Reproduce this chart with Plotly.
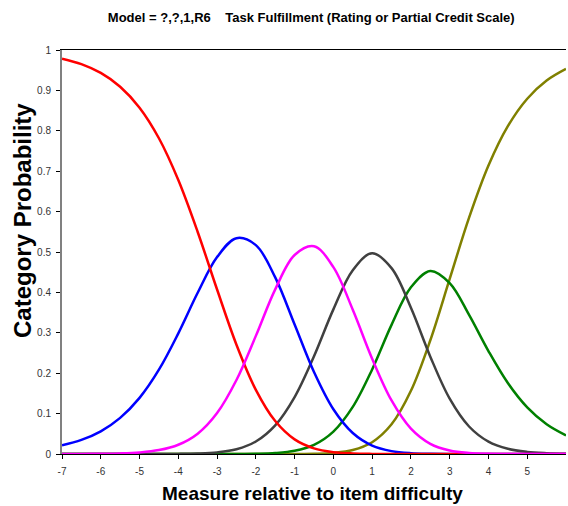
import plotly.graph_objects as go

# Measure relative to item difficulty (x)
measure = [-7, -6.5, -6, -5.5, -5, -4.5, -4, -3.5, -3, -2.5, -2, -1.5, -1, -0.5,
           0, 0.5, 1, 1.5, 2, 2.5, 3, 3.5, 4, 4.5, 5, 5.5, 6]

# Category probabilities
cat0_red = [0.9785, 0.9649, 0.9432, 0.9091, 0.8572, 0.7815, 0.6781, 0.5495, 0.4071, 0.2706,
            0.1589, 0.0815, 0.0362, 0.0139, 0.0046, 0.0013, 0.0003, 0.0001, 0.0, 0.0,
            0.0, 0.0, 0.0, 0.0, 0.0, 0.0, 0.0]
cat1_blue = [0.0215, 0.0349, 0.0562, 0.0894, 0.1389, 0.2087, 0.2987, 0.3990, 0.4874, 0.5342,
             0.5170, 0.4371, 0.3204, 0.2029, 0.1107, 0.0519, 0.0208, 0.0071, 0.0020, 0.0005,
             0.0001, 0.0, 0.0, 0.0, 0.0, 0.0, 0.0]
cat2_magenta = [0.0001, 0.0002, 0.0006, 0.0015, 0.0039, 0.0097, 0.0229, 0.0503, 0.1014, 0.1832,
                0.2924, 0.4075, 0.4926, 0.5143, 0.4625, 0.3571, 0.2359, 0.1326, 0.0629, 0.0253,
                0.0087, 0.0026, 0.0007, 0.0002, 0.0, 0.0, 0.0]
cat3_gray = [0.0, 0.0, 0.0, 0.0, 0.0, 0.0001, 0.0003, 0.0012, 0.0040, 0.0118,
             0.0310, 0.0710, 0.1410, 0.2420, 0.3580, 0.4550, 0.4970, 0.4600, 0.3620, 0.2410,
             0.1370, 0.0681, 0.0306, 0.0128, 0.0051, 0.0020, 0.0007]
cat4_green = [0.0, 0.0, 0.0, 0.0, 0.0, 0.0, 0.0, 0.0, 0.0, 0.0001,
              0.0006, 0.0024, 0.0080, 0.0227, 0.0555, 0.1165, 0.2093, 0.3196, 0.4126, 0.4530,
              0.4230, 0.3443, 0.2548, 0.1757, 0.1155, 0.0737, 0.0461]
cat5_olive = [0.0, 0.0, 0.0, 0.0, 0.0, 0.0, 0.0, 0.0, 0.0, 0.0,
              0.0, 0.0, 0.0002, 0.0007, 0.0028, 0.0099, 0.0292, 0.0735, 0.1564, 0.2815,
              0.4334, 0.5849, 0.7139, 0.8114, 0.8794, 0.9244, 0.9532]

x_ticks = [-7, -6, -5, -4, -3, -2, -1, 0, 1, 2, 3, 4, 5]
y_ticks = [0, 0.1, 0.2, 0.3, 0.4, 0.5, 0.6, 0.7, 0.8, 0.9, 1]

series = [
    (cat5_olive, "#808000"),
    (cat4_green, "#008000"),
    (cat3_gray, "#404040"),
    (cat1_blue, "#0000FF"),
    (cat0_red, "#FF0000"),
    (cat2_magenta, "#FF00FF"),
]

FONT = "Liberation Sans, Arial, sans-serif"

fig = go.Figure()
for ys, col in series:
    fig.add_trace(go.Scatter(
        x=measure, y=ys, mode="lines",
        line=dict(color=col, width=2.5, shape="spline", smoothing=1.0),
        hoverinfo="skip", showlegend=False,
    ))

fig.update_layout(
    width=568, height=506,
    margin=dict(l=62, r=2, t=50, b=52),
    paper_bgcolor="white", plot_bgcolor="white",
    font=dict(family=FONT, color="#333333"),
    title=dict(
        text="<b>Model = ?,?,1,R6\u00a0\u00a0\u00a0\u00a0Task Fulfillment (Rating or Partial Credit Scale)</b>",
        font=dict(size=13, color="#000000", family=FONT),
        x=0.548, xanchor="center", xref="container",
        y=1 - 17 / 506, yanchor="middle", yref="container",
    ),
    xaxis=dict(
        range=[-7, 6], tickvals=x_ticks, ticktext=[str(v) for v in x_ticks],
        showgrid=False, zeroline=False,
        showline=True, linecolor="#000000", linewidth=1, mirror=True,
        ticks="outside", ticklen=4, tickcolor="#000000", tickwidth=1,
        ticklabelstandoff=4,
        tickfont=dict(size=10, color="#333333"),
    ),
    yaxis=dict(
        range=[0, 1], tickvals=y_ticks,
        ticktext=["0", "0.1", "0.2", "0.3", "0.4", "0.5", "0.6", "0.7", "0.8", "0.9", "1"],
        showgrid=False, zeroline=False,
        showline=True, linecolor="#808080", linewidth=2,
        ticks="outside", ticklen=4, tickcolor="#000000", tickwidth=1,
        ticklabelstandoff=3,
        tickfont=dict(size=10, color="#333333"),
    ),
    annotations=[
        dict(text="<b>Measure relative to item difficulty</b>", xref="paper", yref="paper",
             x=0.498, y=(454 - 493) / 404, xanchor="center", yanchor="middle",
             showarrow=False, font=dict(size=19, color="#000000", family=FONT)),
        dict(text="<b>Category Probability</b>", xref="paper", yref="paper",
             x=(22 - 62) / 504, y=(454 - 221) / 404, xanchor="center", yanchor="middle",
             textangle=-90,
             showarrow=False, font=dict(size=24, color="#000000", family=FONT)),
    ],
)

fig.write_html(
    "out.html",
    config={"displayModeBar": False},
    post_script="document.body.style.margin='0';document.body.style.overflow='hidden';",
)
